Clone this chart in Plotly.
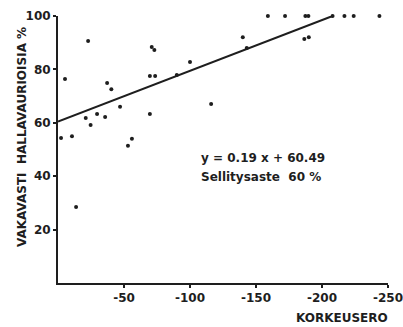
import plotly.graph_objects as go

# Data (korkeusero, vakavasti hallavaurioisia %)
korkeusero = [-2.3, -5.3, -10.6, -13.7, -21, -22.8, -24.7, -29.6, -35.7, -37.2, -40.4,
              -47, -53, -56, -69.6, -69.6, -73.6, -71, -73, -90, -100, -116, -140,
              -143, -159, -172, -187.4, -189.7, -186.6, -190, -208, -217, -224, -243.5]
vaurio = [54.3, 76.4, 55, 28.5, 61.8, 90.6, 59.2, 63.3, 62.2, 74.9, 72.6,
          66, 51.4, 54, 63.3, 77.5, 77.5, 88.4, 87.3, 77.9, 82.8, 67, 92,
          88, 100, 100, 100, 100, 91.4, 92, 100, 100, 100, 100]

slope = 0.19
intercept = 60.49
line_x = [0, -208]
line_y = [intercept + slope * abs(v) for v in line_x]

x_ticks = [-50, -100, -150, -200, -250]
y_ticks = [20, 40, 60, 80, 100]

FONT = "DejaVu Sans"
INK = "#1e1e1e"

fig = go.Figure()
fig.add_trace(go.Scatter(x=line_x, y=line_y, mode="lines",
                         line=dict(color=INK, width=2), cliponaxis=False,
                         showlegend=False, hoverinfo="skip"))
fig.add_trace(go.Scatter(x=korkeusero, y=vaurio, mode="markers",
                         marker=dict(color=INK, size=4), cliponaxis=False,
                         showlegend=False))

W, H = 403, 327
L, R, T, B = 58, 15, 16, 44
pw, ph = W - L - R, H - T - B

def px(xp):
    return (xp - L) / pw

def py(yp):
    return (H - B - yp) / ph

fig.add_annotation(text="<b>VAKAVASTI  HALLAVAURIOISIA %</b>", xref="paper", yref="paper",
                   x=px(13), y=py(137), textangle=-90, showarrow=False,
                   font=dict(family=FONT, size=12, color=INK))
fig.add_annotation(text="<b>KORKEUSERO</b>", xref="paper", yref="paper",
                   x=px(390), y=py(318), xanchor="right", yanchor="middle", showarrow=False,
                   font=dict(family=FONT, size=12, color=INK))
fig.add_annotation(text="<b>y = 0.19 x + 60.49</b>", xref="paper", yref="paper",
                   x=px(199), y=py(158), xanchor="left", yanchor="middle", showarrow=False,
                   font=dict(family=FONT, size=12, color=INK))
fig.add_annotation(text="<b>Sellitysaste  60 %</b>", xref="paper", yref="paper",
                   x=px(199), y=py(177), xanchor="left", yanchor="middle", showarrow=False,
                   font=dict(family=FONT, size=12, color=INK))

fig.update_layout(
    width=W, height=H,
    margin=dict(l=L, r=R, t=T, b=B, autoexpand=False),
    paper_bgcolor="white", plot_bgcolor="white",
    font=dict(family=FONT, size=12, color=INK),
    xaxis=dict(range=[0, -250], tickvals=x_ticks, ticktext=[f"<b>{v}</b>" for v in x_ticks],
               showgrid=False, zeroline=False, showline=True, linecolor=INK, linewidth=2,
               ticks="outside", ticklen=3, tickwidth=1.5, tickcolor=INK,
               ticklabeloverflow="allow", automargin=False),
    yaxis=dict(range=[0, 100], tickvals=y_ticks, ticktext=[f"<b>{v}</b>" for v in y_ticks],
               showgrid=False, zeroline=False, showline=True, linecolor=INK, linewidth=2,
               ticks="outside", ticklen=3, tickwidth=1.5, tickcolor=INK,
               ticklabeloverflow="allow", automargin=False),
)

fig.write_html("out.html")
